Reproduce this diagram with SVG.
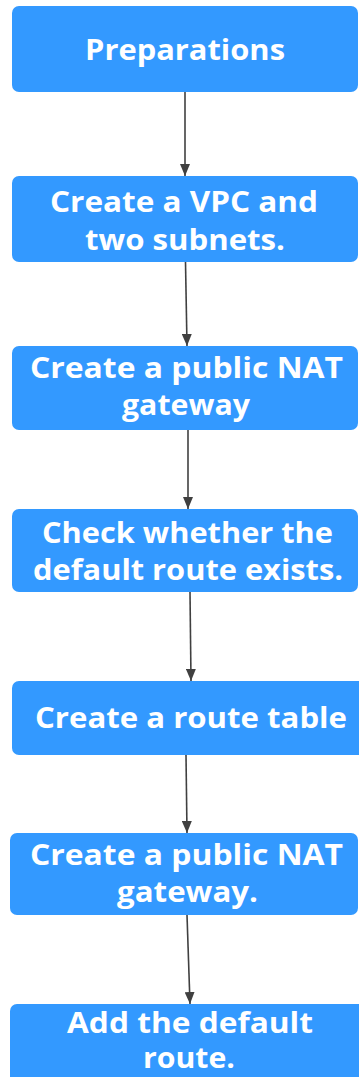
<svg xmlns="http://www.w3.org/2000/svg" width="359" height="1077" viewBox="0 0 359 1077">
<style>
.box{fill:#3399ff;}
.t{fill:#ffffff;font-family:"Open Sans","Noto Sans","Liberation Sans",sans-serif;font-weight:bold;font-size:29px;text-anchor:middle;}
.c{stroke:#404040;stroke-width:1.6;fill:none;marker-end:url(#ah);}
</style>
<defs>
<marker id="ah" viewBox="0 0 12 10" refX="12" refY="5" markerWidth="12" markerHeight="10" markerUnits="userSpaceOnUse" orient="auto">
<path d="M0,0 L12,5 L0,10 Z" fill="#404040"/>
</marker>
</defs>
<rect width="359" height="1077" fill="#ffffff"/>
<g id="n1"><rect class="box" x="12" y="6" width="346" height="86" rx="7"/><text class="t" x="185" y="60" textLength="200" lengthAdjust="spacingAndGlyphs">Preparations</text></g>
<g id="n2"><rect class="box" x="12" y="176" width="346" height="86" rx="7"/><text class="t" x="184" y="212" textLength="268" lengthAdjust="spacingAndGlyphs">Create a VPC and</text><text class="t" x="185" y="250" textLength="200" lengthAdjust="spacingAndGlyphs">two subnets.</text></g>
<g id="n3"><rect class="box" x="12" y="346" width="346" height="84" rx="7"/><text class="t" x="186.5" y="378" textLength="313" lengthAdjust="spacingAndGlyphs">Create a public NAT</text><text class="t" x="186" y="415" textLength="128" lengthAdjust="spacingAndGlyphs">gateway</text></g>
<g id="n4"><rect class="box" x="12" y="509" width="346" height="83" rx="7"/><text class="t" x="187.5" y="543" textLength="291" lengthAdjust="spacingAndGlyphs">Check whether the</text><text class="t" x="188" y="580" textLength="310" lengthAdjust="spacingAndGlyphs">default route exists.</text></g>
<g id="n5"><rect class="box" x="12" y="681" width="356" height="74" rx="7"/><text class="t" x="191" y="728" textLength="312" lengthAdjust="spacingAndGlyphs">Create a route table</text></g>
<g id="n6"><rect class="box" x="10" y="833" width="348" height="82" rx="7"/><text class="t" x="186.5" y="865" textLength="313" lengthAdjust="spacingAndGlyphs">Create a public NAT</text><text class="t" x="187.5" y="902" textLength="141" lengthAdjust="spacingAndGlyphs">gateway.</text></g>
<g id="n7"><rect class="box" x="10" y="1004" width="356" height="85" rx="7"/><text class="t" x="190" y="1033" textLength="246" lengthAdjust="spacingAndGlyphs">Add the default</text><text class="t" x="189" y="1068" textLength="92" lengthAdjust="spacingAndGlyphs">route.</text></g>
<g id="edges">
<path class="c" d="M185,92 L185,176"/>
<path class="c" d="M185.5,262 L187,346"/>
<path class="c" d="M188,430 L188,509"/>
<path class="c" d="M190,592 L191,681"/>
<path class="c" d="M186,755 L187,833"/>
<path class="c" d="M187,915 L190,1004"/>
</g>
</svg>
